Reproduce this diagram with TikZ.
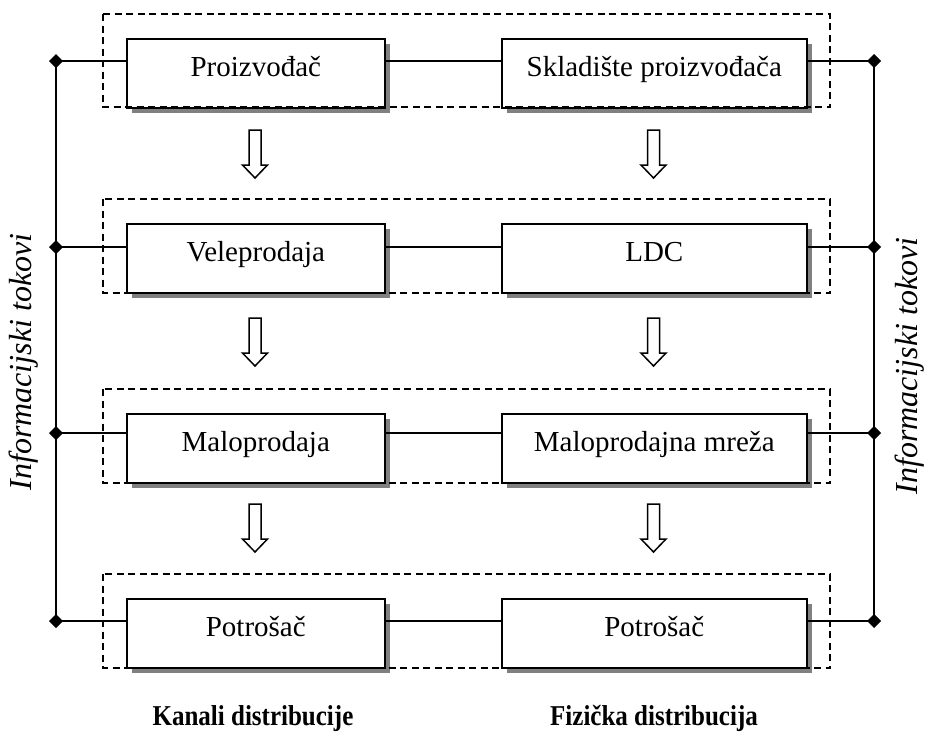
\documentclass[tikz,border=0pt]{standalone}
\usepackage{fontspec}
\setmainfont{Liberation Serif}
\usetikzlibrary{shadows,calc}
\begin{document}
\begin{tikzpicture}[x=1pt,y=-1pt,
  unitbox/.style={draw, line width=1.6pt, fill=white, inner sep=0pt, anchor=north west,
    minimum height=69pt, text height=38pt, text depth=31pt,
    font=\fontsize{29}{32}\selectfont,
    general shadow={fill=black!50, shadow xshift=5pt, shadow yshift=-5pt}},
  lbox/.style={unitbox, minimum width=258pt},
  rbox/.style={unitbox, minimum width=305pt},
  grp/.style={draw, line width=1.3pt, dash pattern=on 7pt off 4.5pt},
  link/.style={line width=1.4pt},
  dia/.style={fill=black},
  flow/.style={draw, line width=1.5pt, fill=white, line join=miter},
  side/.style={rotate=90, font=\fontsize{32}{36}\selectfont\itshape},
  foot/.style={anchor=base, font=\fontsize{25}{30}\selectfont\bfseries}]
\useasboundingbox (0,0) rectangle (928,731);

% boxes
\node[lbox] (A1) at (126,38) {Proizvođač};
\node[rbox] (B1) at (501,38) {Skladište proizvođača};
\node[lbox] (A2) at (126,223) {Veleprodaja};
\node[rbox] (B2) at (501,223) {LDC};
\node[lbox] (A3) at (126,413) {Maloprodaja};
\node[rbox] (B3) at (501,413) {Maloprodajna mreža};
\node[lbox] (A4) at (126,598) {Potrošač};
\node[rbox] (B4) at (501,598) {Potrošač};

% dashed groups
\draw[grp] (103,14) rectangle (830,107);
\draw[grp] (103,199) rectangle (830,293);
\draw[grp] (103,389) rectangle (830,483);
\draw[grp] (103,574) rectangle (830,668);

% junctions
\coordinate (L1) at (56,61);  \coordinate (R1) at (874,61);
\coordinate (L2) at (56,247); \coordinate (R2) at (874,247);
\coordinate (L3) at (56,433); \coordinate (R3) at (874,433);
\coordinate (L4) at (56,621); \coordinate (R4) at (874,621);

\draw[link] (L1) -- (L4);
\draw[link] (R1) -- (R4);
\foreach \i in {1,2,3,4}{
  \draw[link] (L\i) -- (L\i -| A\i.west);
  \draw[link] (L\i -| A\i.east) -- (L\i -| B\i.west);
  \draw[link] (R\i -| B\i.east) -- (R\i);
  \fill[dia] ($(L\i)+(-7,0)$) -- ($(L\i)+(0,-7)$) -- ($(L\i)+(7,0)$) -- ($(L\i)+(0,7)$) -- cycle;
  \fill[dia] ($(R\i)+(-7,0)$) -- ($(R\i)+(0,-7)$) -- ($(R\i)+(7,0)$) -- ($(R\i)+(0,7)$) -- cycle;
}

% flow arrows
\foreach \x in {255,653.5}{
  \foreach \y in {130,318,504}{
    \draw[flow] (\x-6,\y) -- (\x+6,\y) -- (\x+6,\y+35) -- (\x+12.5,\y+35) -- (\x,\y+48)
      -- (\x-12.5,\y+35) -- (\x-6,\y+35) -- cycle;
  }
}

% side labels
\node[side] (infL) at (24,362) {Informacijski tokovi};
\node[side] (infR) at (910,366) {Informacijski tokovi};

% footers
\node[foot] (kan) at (253,725) {\scalebox{1}[1.15]{Kanali distribucije}};
\node[foot] (fiz) at (654,725) {\scalebox{1}[1.15]{Fizička distribucija}};
\end{tikzpicture}
\end{document}
